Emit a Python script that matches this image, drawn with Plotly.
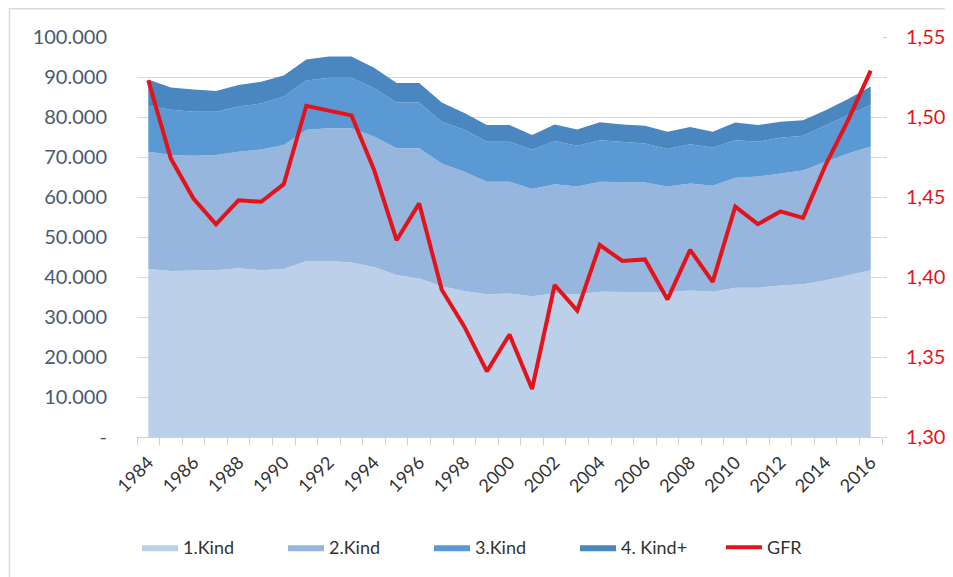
import plotly.graph_objects as go

years = list(range(1984, 2017))

kind1 = [42000, 41500, 41600, 41700, 42200, 41700, 42000, 44000, 44000, 43600, 42500,
         40500, 39600, 37700, 36500, 35700, 35900, 35200, 35900, 35700, 36300, 36300,
         36300, 36200, 36600, 36300, 37300, 37300, 37900, 38200, 39200, 40500, 41700]
kind2 = [29300, 29000, 28700, 28800, 29100, 30200, 31000, 32800, 33200, 33600, 32600,
         31700, 32600, 30700, 29800, 28100, 27900, 26800, 27300, 26900, 27500, 27400,
         27300, 26400, 26800, 26500, 27500, 27800, 28000, 28400, 29600, 30400, 30900]
kind3 = [11500, 11300, 11000, 10800, 11300, 11500, 12100, 12300, 12600, 12600, 12100,
         11400, 11400, 10400, 10500, 10000, 10000, 9800, 10800, 10200, 10400, 10100,
         9800, 9400, 9800, 9600, 9400, 8700, 8900, 8700, 9200, 9600, 10400]
kind4 = [6600, 5600, 5600, 5200, 5400, 5400, 5300, 5300, 5300, 5300, 5100,
         4900, 4900, 4800, 4200, 4200, 4200, 3700, 4100, 4100, 4500, 4300,
         4400, 4300, 4300, 3900, 4400, 4200, 4000, 3900, 3700, 4000, 4600]

# total fertility rate (right axis)
gfr = [1.523, 1.474, 1.449, 1.433, 1.448, 1.447, 1.458, 1.507, 1.504, 1.501, 1.467,
       1.423, 1.446, 1.392, 1.369, 1.341, 1.364, 1.330, 1.395, 1.379, 1.420, 1.410,
       1.411, 1.386, 1.417, 1.397, 1.444, 1.433, 1.441, 1.437, 1.470, 1.498, 1.529]

left_ticks = list(range(0, 100001, 10000))
left_labels = ["-"] + [f"{v:,}".replace(",", ".") for v in left_ticks[1:]]
year_ticks = list(range(1984, 2017, 2))

FONT = "Lato, 'Open Sans', sans-serif"

layers = [
    ("1.Kind", kind1, "#BDD0E9"),
    ("2.Kind", kind2, "#96B6DD"),
    ("3.Kind", kind3, "#5A99D3"),
    ("4. Kind+", kind4, "#4A86BF"),
]

fig = go.Figure()
for name, vals, color in layers:
    fig.add_trace(
        go.Scatter(
            x=years, y=vals, name=name, stackgroup="births", mode="lines",
            line=dict(width=0, color=color), fillcolor=color,
        )
    )

fig.add_trace(
    go.Scatter(
        x=years, y=gfr, name="GFR", yaxis="y2", mode="lines",
        line=dict(color="#E3131B", width=4),
    )
)

# light frame around the chart, cropped at right and bottom like the screenshot
fig.add_shape(
    type="rect", xref="paper", yref="paper",
    x0=-0.1712, x1=1.3, y0=-0.5, y1=1.0705,
    line=dict(color="#D9D9D9", width=1.5), layer="below",
)

# the page body adds an 8px offset, so margins are shifted by that much
fig.update_layout(
    width=953,
    height=577,
    margin=dict(l=129, r=79, t=29, b=148),
    paper_bgcolor="white",
    plot_bgcolor="white",
    separators=",.",
    font=dict(family=FONT, color="#404040"),
    showlegend=True,
    xaxis=dict(
        range=[1983.5, 2016.5],
        tickvals=year_ticks,
        ticktext=[str(y) for y in year_ticks],
        tickangle=-45,
        ticks="",
        tickfont=dict(size=18, color="#333333"),
        showgrid=False,
        zeroline=False,
        showline=True,
        linecolor="#D0D0D0",
        linewidth=1,
        automargin=False,
        ticklabelstandoff=7,
        minor=dict(ticks="outside", tick0=1983.5, dtick=1, ticklen=7,
                   tickcolor="#D0D0D0", showgrid=False),
    ),
    yaxis=dict(
        range=[0, 100000],
        tickvals=left_ticks,
        ticktext=left_labels,
        tickfont=dict(size=20, color="#4A5A70"),
        showgrid=True,
        gridcolor="#D9D9D9",
        gridwidth=1,
        zeroline=False,
        automargin=False,
        ticklabelstandoff=29,
    ),
    yaxis2=dict(
        overlaying="y",
        side="right",
        range=[1.30, 1.55],
        dtick=0.05,
        tick0=1.30,
        tickformat=".2f",
        tickfont=dict(size=20, color="#E3131B"),
        showgrid=False,
        zeroline=False,
        ticks="outside",
        ticklen=4,
        tickcolor="#D0D0D0",
        automargin=False,
        ticklabelstandoff=15,
        minor=dict(ticks="outside", dtick=0.025, ticklen=4, tickcolor="#D0D0D0"),
    ),
    legend=dict(
        orientation="h",
        x=0.0,
        xanchor="left",
        y=-0.23,
        yanchor="top",
        traceorder="normal",
        font=dict(size=18, color="#333333"),
        entrywidth=95,
        entrywidthmode="pixels",
        itemwidth=36,
        bgcolor="rgba(0,0,0,0)",
    ),
)

fig.write_html("out.html")
